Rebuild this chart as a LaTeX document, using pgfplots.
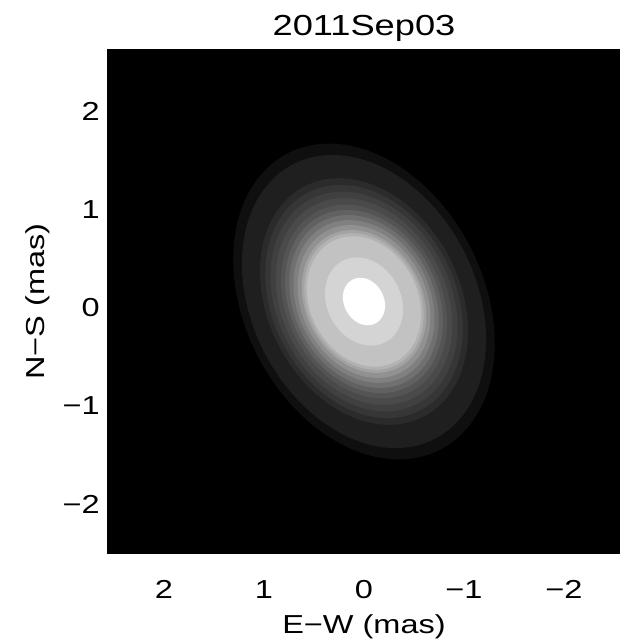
\documentclass[border=0pt]{standalone}
\usepackage{fontspec}
\setmainfont{Liberation Sans}[FakeStretch=1.25]
\usepackage{pgfplots}
\pgfplotsset{compat=1.18}

% one filled contour level: grey percentage, semi-major and semi-minor axis (mas)
% major axis at 64 degrees from the +x (east) direction
\newcommand{\level}[3]{%
  \addplot[draw=none, fill=white!#1!black, domain=0:360, samples=145]
    ({#2*cos(x)*cos(64) - #3*sin(x)*sin(64)},
     {#2*cos(x)*sin(64) + #3*sin(x)*cos(64)});
}

\begin{document}
\begin{tikzpicture}
\begin{axis}[
  scale only axis,
  width=256pt, height=251.5pt,
  xmin=-2.56, xmax=2.56, ymin=-2.56, ymax=2.56,
  x dir=reverse,
  axis background/.style={fill=black},
  axis line style={black, line width=0.5pt},
  tick style={draw=none},
  xtick={-2,-1,0,1,2}, xticklabels={−2,−1,0,1,2},
  ytick={-2,-1,0,1,2}, yticklabels={−2,−1,0,1,2},
  ticklabel style={font=\fontsize{13}{15}\selectfont},
  xticklabel style={anchor=base, yshift=-22.5pt},
  yticklabel style={anchor=east, inner sep=0pt, xshift=-4pt, yshift=-3pt},
  every axis title shift=0pt,
  title={2011Sep03},
  title style={at={(axis description cs:0.5,1.0298)}, anchor=base, font=\fontsize{14.5}{17}\selectfont},
  xlabel={E−W (mas)},
  xlabel style={at={(axis description cs:0.5,-0.161)}, anchor=base, font=\fontsize{13}{15}\selectfont},
  ylabel={N−S (mas)},
  ylabel style={at={(axis description cs:-0.124,0.5)}, anchor=base, font=\fontsize{13}{15}\selectfont},
]
\level{6}{1.690}{1.199}
\level{12}{1.567}{1.123}
\level{17}{1.315}{0.964}
\level{21}{1.242}{0.917}
\level{25}{1.170}{0.870}
\level{29}{1.099}{0.823}
\level{33}{1.029}{0.776}
\level{38}{0.973}{0.738}
\level{44}{0.918}{0.700}
\level{50}{0.863}{0.662}
\level{57}{0.810}{0.624}
\level{64}{0.756}{0.586}
\level{70}{0.723}{0.562}
\level{76}{0.689}{0.539}
\level{83}{0.465}{0.370}
\level{100}{0.250}{0.200}
\end{axis}
\pgfresetboundingbox
\path (current axis.south west) ++(-54pt,-45pt) rectangle ++(312.5pt,321.5pt);
\end{tikzpicture}
\end{document}
